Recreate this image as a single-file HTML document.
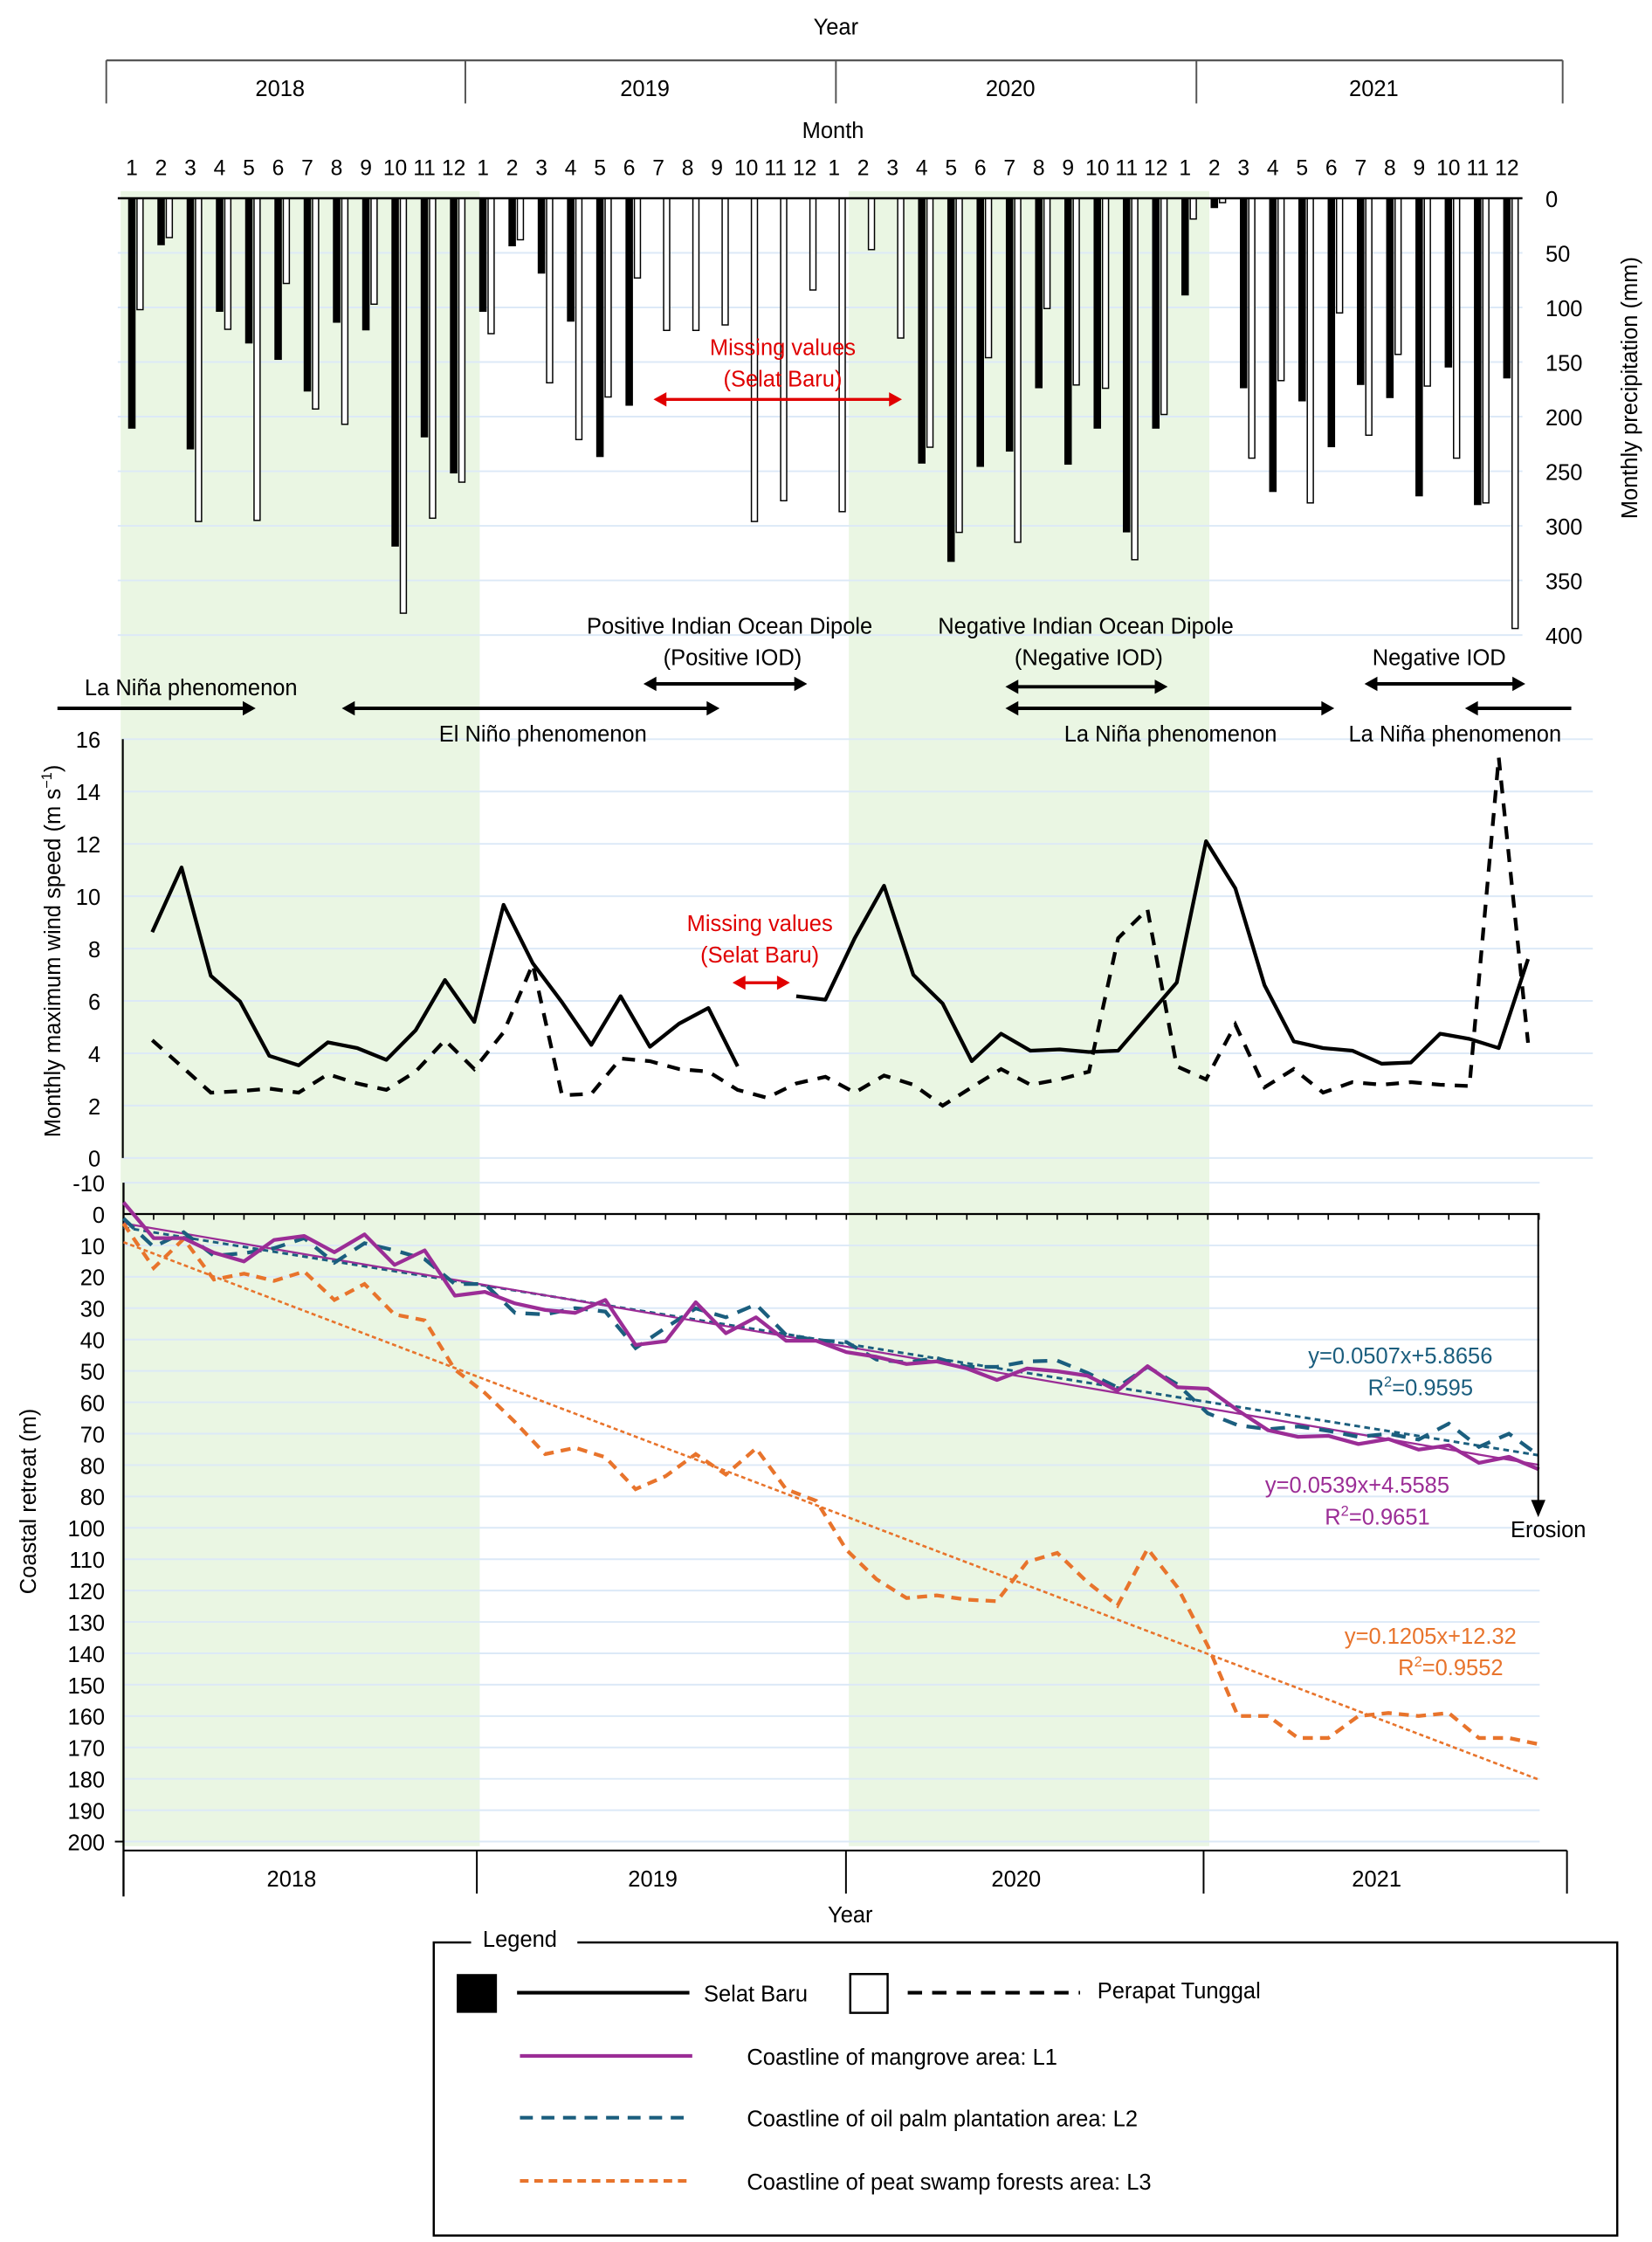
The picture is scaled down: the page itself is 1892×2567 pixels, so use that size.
<!DOCTYPE html>
<html><head><meta charset="utf-8">
<style>
html,body{margin:0;padding:0;background:#fff;}
svg{display:block;font-family:"Liberation Sans",Arial,sans-serif;}
</style></head>
<body>
<svg id="fig" xmlns="http://www.w3.org/2000/svg" width="1892" height="2567" viewBox="0 0 1150.2 1560.5" preserveAspectRatio="none">
<g id="bg">
  <rect x="84" y="133" width="250" height="1152" fill="#EAF6E3"/>
  <rect x="591" y="133" width="251" height="1152" fill="#EAF6E3"/>
</g>
<g id="grid"></g>
<g id="top-axis">
  <text x="582" y="24" font-size="15.5" text-anchor="middle">Year</text>
  <line x1="74" y1="42" x2="1088" y2="42" stroke="#555" stroke-width="1.4"/>
  <text x="580" y="96" font-size="15.5" text-anchor="middle">Month</text>
</g>
<g id="precip"></g>
<g id="annot" font-size="15.5" text-anchor="middle">
  <text x="545" y="247" fill="#e00000">Missing values</text>
  <text x="545" y="269" fill="#e00000">(Selat Baru)</text>
  <text x="508" y="441">Positive Indian Ocean Dipole</text>
  <text x="510" y="463">(Positive IOD)</text>
  <text x="756" y="441">Negative Indian Ocean Dipole</text>
  <text x="758" y="463">(Negative IOD)</text>
  <text x="1002" y="463">Negative IOD</text>
  <text x="133" y="484">La Niña phenomenon</text>
  <text x="378" y="516">El Niño phenomenon</text>
  <text x="815" y="516">La Niña phenomenon</text>
  <text x="1013" y="516">La Niña phenomenon</text>
  <text x="529" y="648" fill="#e00000">Missing values</text>
  <text x="529" y="670" fill="#e00000">(Selat Baru)</text>
</g>
<g id="arrows"></g>
<g id="wind"></g>
<g id="coast"></g>
<g id="legend" font-size="15.5">
  <rect x="302" y="1352" width="824" height="204" fill="none" stroke="#000" stroke-width="1.5"/>
  <rect x="328" y="1340" width="74" height="20" fill="#fff"/>
  <text x="362" y="1355" text-anchor="middle">Legend</text>
  <rect x="318" y="1374" width="28" height="27" fill="#000"/>
  <line x1="360" y1="1387" x2="480" y2="1387" stroke="#000" stroke-width="2.5"/>
  <text x="490" y="1393">Selat Baru</text>
  <rect x="592" y="1374" width="26" height="27" fill="#fff" stroke="#000" stroke-width="1.5"/>
  <line x1="632" y1="1387" x2="752" y2="1387" stroke="#000" stroke-width="2.5" stroke-dasharray="10,7"/>
  <text x="764" y="1391">Perapat Tunggal</text>
  <line x1="362" y1="1431" x2="482" y2="1431" stroke="#9B2D96" stroke-width="2.5"/>
  <text x="520" y="1437">Coastline of mangrove area: L1</text>
  <line x1="362" y1="1474" x2="482" y2="1474" stroke="#1B5E7E" stroke-width="2.5" stroke-dasharray="9,6"/>
  <text x="520" y="1480">Coastline of oil palm plantation area: L2</text>
  <line x1="362" y1="1518" x2="482" y2="1518" stroke="#E8742C" stroke-width="2.5" stroke-dasharray="6,4"/>
  <text x="520" y="1524">Coastline of peat swamp forests area: L3</text>
</g>
</svg>
<script>
// ---------- data ----------
const years = ["2018","2019","2020","2021"];
const monthLabels = ["1","2","3","4","5","6","7","8","9","10","11","12"];
const precipTicks = [0,50,100,150,200,250,300,350,400];
const precipSelatBaru = [211,43,230,104,133,148,177,114,121,319,219,252,
 104,44,69,113,237,190,null,null,null,null,null,null,
 null,null,null,243,333,246,232,174,244,211,306,211,
 89,9,174,269,186,228,171,183,273,155,281,165];
const precipPerapat = [102,36,296,120,295,78,193,207,97,380,293,260,
 124,38,169,221,182,73,121,121,116,296,277,84,
 287,47,128,228,306,146,315,101,171,174,331,198,
 19,4,238,167,279,105,217,143,172,238,279,394];
const windTicks = [0,2,4,6,8,10,12,14,16];
const windSelatBaru = [8.63,11.1,6.96,5.98,3.9,3.54,4.42,4.2,3.75,4.88,6.8,5.2,
 9.67,7.44,5.95,4.32,6.18,4.25,5.13,5.73,3.5,null,6.18,6.05,
 8.4,10.4,7.0,5.9,3.7,4.75,4.1,4.15,4.05,4.1,5.4,6.7,
 12.1,10.3,6.6,4.45,4.2,4.1,3.6,3.65,4.75,4.55,4.2,7.6];
const windPerapat = [4.5,3.5,2.5,2.55,2.65,2.5,3.2,2.85,2.6,3.3,4.5,3.4,
 4.8,7.4,2.4,2.45,3.8,3.7,3.4,3.3,2.6,2.3,2.85,3.1,
 2.5,3.15,2.8,2.0,2.7,3.4,2.8,3.0,3.3,8.4,9.5,3.5,
 3.0,5.1,2.7,3.4,2.5,2.9,2.8,2.9,2.8,2.75,15.3,4.4];
const coastTicks = [-10,0,10,20,30,40,50,60,70,80,90,100,110,120,130,140,150,160,170,180,190,200];
const coastTickLabels = ["-10","0","10","20","30","40","50","60","70","80","80","100","110","120","130","140","150","160","170","180","190","200"];
const coastL1 = [-3.7,7.7,7.7,12.3,15.1,8.3,7.0,12.2,6.5,16.2,11.6,26,
 24.8,28.5,30.6,31.5,27.4,41.7,40.5,28.1,38,32.9,40.4,40.4,
 44,45.5,47.8,47,49.2,52.9,49.2,50.1,51.5,56.3,48.5,55.2,
 55.7,62.6,68.9,71,70.7,73.3,71.7,75.1,73.7,79.3,77.4,81.4];
const coastL2 = [1.4,10.5,5.8,13.3,12.5,10.9,7.7,15.5,9.3,11.6,14.4,22.3,
 22.3,31.5,32,30,31.1,42.7,36.2,30.1,32.9,28.8,38.5,40.2,
 40.8,46.4,47.3,45.9,48.7,48.7,47,46.7,50.6,55.2,48.7,54.3,
 63.5,67.3,68.6,67.7,69.1,71,70,71.9,66.8,74.2,70,77];
const coastL3 = [3,17.2,7.9,20.9,19,21.3,18.3,27.4,22.3,32,33.9,49.6,
 57,66.3,76.5,74.5,77.5,87.7,83.5,76.5,83,74.7,87.7,91.4,
 107,116.4,122.4,121.5,122.9,123.4,110.9,108,117.3,124.8,106.7,119,
 137.6,160,160,167,167,160,159,160,159,167,167,169];

// ---------- helpers ----------
const NS="http://www.w3.org/2000/svg";
function mk(parent,tag,attrs,text){const e=document.createElementNS(NS,tag);for(const k in attrs)e.setAttribute(k,attrs[k]);if(text!==undefined)e.textContent=text;parent.appendChild(e);return e;}
const G=id=>document.getElementById(id);
const grid=G('grid'),precip=G('precip'),wind=G('wind'),coast=G('coast'),arrows=G('arrows'),topAxis=G('top-axis');

// ---------- top year axis ----------
const yearBounds=[74,324,582,833,1088];
yearBounds.forEach((x,i)=>{const l=mk(topAxis,'line',{x1:x,y1:42,x2:x,y2:72,stroke:'#555','stroke-width':1.2});

});
years.forEach((y,i)=>{const t=mk(topAxis,'text',{x:(yearBounds[i]+yearBounds[i+1])/2-4,y:67,'font-size':15.5,'text-anchor':'middle'},y);

});

// ---------- precipitation ----------
const pStep=20.37;
const pY=v=>138+v*(304/400);
const pBlackX=i=>89.2+i*pStep, pWhiteX=i=>95.4+i*pStep;
precipTicks.forEach(v=>{
  if(v>0){const g=mk(grid,'line',{x1:82,y1:pY(v),x2:1060,y2:pY(v),stroke:'#DCE9F7','stroke-width':1.2});
  
  }
  const t=mk(precip,'text',{x:1076,y:pY(v)+6,'font-size':15.5,'text-anchor':'start'},String(v));
  
  
});
for(let i=0;i<48;i++){
  const t=mk(precip,'text',{x:91.8+i*pStep,y:122,'font-size':15,'text-anchor':'middle'},monthLabels[i%12]);
  
  
  if(precipSelatBaru[i]!=null){const b=mk(precip,'rect',{x:pBlackX(i),y:pY(0),width:5.2,height:pY(precipSelatBaru[i])-pY(0),fill:'#000'});
  
  }
  if(precipPerapat[i]!=null){const w=mk(precip,'rect',{x:pWhiteX(i),y:pY(0),width:4.2,height:pY(precipPerapat[i])-pY(0),fill:'#fff',stroke:'#000','stroke-width':0.9});
  
  }
}
mk(precip,'line',{x1:82,y1:pY(0),x2:1060,y2:pY(0),stroke:'#000','stroke-width':1.5});
const pt=mk(precip,'text',{transform:'translate(1140,270) rotate(-90)','font-size':15.5,'text-anchor':'middle'},'Monthly precipitation (mm)');



// ---------- arrows ----------
function arrow(x1,x2,y,headL,headR,color,name,w){
  const g=mk(arrows,'g',{});
  
  
  const c=color||'#000',sw=w||2.4;
  mk(g,'line',{x1:x1+(headL?4:0),y1:y,x2:x2-(headR?4:0),y2:y,stroke:c,'stroke-width':sw});
  if(headL)mk(g,'path',{d:`M${x1},${y} l9,-5 l0,10 z`,fill:c});
  if(headR)mk(g,'path',{d:`M${x2},${y} l-9,-5 l0,10 z`,fill:c});
}
arrow(455,628,278,true,true,'#e00000','missing-precip-arrow',2);
arrow(448,562,476,true,true,null,'positive-iod-arrow');
arrow(700,813,478,true,true,null,'negative-iod-arrow');
arrow(950,1062,476,true,true,null,'negative-iod-2021-arrow');
arrow(40,178,493,false,true,null,'la-nina-2018-arrow');
arrow(238,501,493,true,true,null,'el-nino-arrow');
arrow(700,929,493,true,true,null,'la-nina-2020-arrow');
arrow(1020,1094,493,true,false,null,'la-nina-2021-arrow');
arrow(510,550,684,true,true,'#e00000','missing-wind-arrow',2);

// ---------- wind ----------
const wX=i=>106+i*20.38, wY=v=>806-v*18.22;
windTicks.forEach(v=>{
  const g=mk(grid,'line',{x1:85,y1:wY(v),x2:1109,y2:wY(v),stroke:'#DCE9F7','stroke-width':1.2});
  
  
  const t=mk(wind,'text',{x:70,y:wY(v)+6,'font-size':15.5,'text-anchor':'end'},String(v));
  
  
});
mk(wind,'line',{x1:85.5,y1:wY(16),x2:85.5,y2:wY(0),stroke:'#000','stroke-width':1.3});
function seriesPath(arr,xf,yf){let d='',pen=false;arr.forEach((v,i)=>{if(v==null){pen=false;return;}d+=(pen?'L':'M')+xf(i).toFixed(1)+','+yf(v).toFixed(1);pen=true;});return d;}
const ws=mk(wind,'path',{d:seriesPath(windSelatBaru,wX,wY),fill:'none',stroke:'#000','stroke-width':2.6,'stroke-linejoin':'round'});


const wp=mk(wind,'path',{d:seriesPath(windPerapat,wX,wY),fill:'none',stroke:'#000','stroke-width':2.6,'stroke-dasharray':'9,7'});


const wt=mk(wind,'text',{transform:'translate(42,662) rotate(-90)','font-size':15.5,'text-anchor':'middle'});


wt.innerHTML='Monthly maximum wind speed (m s<tspan dy="-6" font-size="10">−1</tspan><tspan dy="6">)</tspan>';

// ---------- coastal ----------
const cX=i=>86+i*20.97, cY=v=>845+v*2.184;
coastTicks.forEach((v,k)=>{
  const g=mk(grid,'line',{x1:86,y1:cY(v),x2:1072,y2:cY(v),stroke:'#DCE9F7','stroke-width':1.2});
  
  
  const t=mk(coast,'text',{x:73,y:cY(v)+6,'font-size':15.5,'text-anchor':'end'},coastTickLabels[k]);
  
  
});
mk(coast,'line',{x1:86,y1:cY(-10),x2:86,y2:1320,stroke:'#000','stroke-width':1.4});
mk(coast,'line',{x1:80,y1:cY(200),x2:86,y2:cY(200),stroke:'#000','stroke-width':1.2});
mk(coast,'line',{x1:86,y1:cY(0),x2:1072,y2:cY(0),stroke:'#000','stroke-width':1.4});
for(let i=1;i<48;i++)mk(coast,'line',{x1:cX(i),y1:cY(0),x2:cX(i),y2:cY(0)+4,stroke:'#000','stroke-width':1});
mk(coast,'line',{x1:86,y1:1288,x2:1091,y2:1288,stroke:'#000','stroke-width':1.2});
const botBounds=[86,332,589,838,1091];
botBounds.forEach(x=>mk(coast,'line',{x1:x,y1:1288,x2:x,y2:1318,stroke:'#000','stroke-width':1.2}));
years.forEach((y,i)=>{const t=mk(coast,'text',{x:(botBounds[i]+botBounds[i+1])/2-6,y:1313,'font-size':15.5,'text-anchor':'middle'},y);

});
const by=mk(coast,'text',{x:592,y:1338,'font-size':15.5,'text-anchor':'middle'},'Year');


const ct=mk(coast,'text',{transform:'translate(25,1045) rotate(-90)','font-size':15.5,'text-anchor':'middle'},'Coastal retreat (m)');


function fit(a){const n=a.length;let sx=0,sy=0,sxx=0,sxy=0;a.forEach((v,i)=>{sx+=i;sy+=v;sxx+=i*i;sxy+=i*v;});const m=(n*sxy-sx*sy)/(n*sxx-sx*sx);return [m,(sy-m*sx)/n];}
function trend(a,color,dash,w,name){const [m,b]=fit(a);const l=mk(coast,'line',{x1:cX(0),y1:cY(b),x2:cX(47),y2:cY(b+m*47),stroke:color,'stroke-width':w,'stroke-dasharray':dash});

}
trend(coastL3,'#E8742C','3,2',1.6,'trend-l3');
trend(coastL2,'#1B5E7E','4,3',1.8,'trend-l2');
trend(coastL1,'#9B2D96','none',1.4,'trend-l1');
const l3=mk(coast,'path',{d:seriesPath(coastL3,cX,cY),fill:'none',stroke:'#E8742C','stroke-width':2.6,'stroke-dasharray':'7,5'});


const l2=mk(coast,'path',{d:seriesPath(coastL2,cX,cY),fill:'none',stroke:'#1B5E7E','stroke-width':2.6,'stroke-dasharray':'10,7'});


const l1=mk(coast,'path',{d:seriesPath(coastL1,cX,cY),fill:'none',stroke:'#9B2D96','stroke-width':2.6,'stroke-linejoin':'round'});


mk(coast,'line',{x1:1071,y1:cY(0),x2:1071,y2:1046,stroke:'#000','stroke-width':1.2});
mk(coast,'path',{d:'M1071,1056 l-5,-12 l10,0 z',fill:'#000'});
const er=mk(coast,'text',{x:1078,y:1070,'font-size':15.5,'text-anchor':'middle'},'Erosion');


function eq(x,y,c,t1,r,name){const a=mk(coast,'text',{x:x,y:y,'font-size':15.5,'text-anchor':'middle',fill:c},t1);


const b=mk(coast,'text',{x:x+14,y:y+22,'font-size':15.5,'text-anchor':'middle',fill:c});


b.innerHTML='R<tspan dy="-6" font-size="10">2</tspan><tspan dy="6">='+r+'</tspan>';}
eq(975,949,'#1B5E7E','y=0.0507x+5.8656','0.9595','equation-l2');
eq(945,1039,'#9B2D96','y=0.0539x+4.5585','0.9651','equation-l1');
eq(996,1144,'#E8742C','y=0.1205x+12.32','0.9552','equation-l3');
</script>
</body></html>
